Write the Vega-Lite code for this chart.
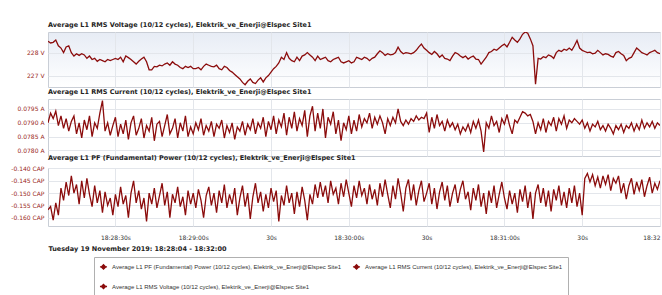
{
"$schema":"https://vega.github.io/schema/vega-lite/v6.json",
"padding":{"left":10,"top":21,"right":0,"bottom":0},
"background":"white",
"bounds":"flush",
"spacing":12,
"data":{"values":[
{"s":4,"v":228.5,"c":0.079,"p":-0.1568},{"s":5,"v":228.42,"c":0.07935,"p":-0.1555},{"s":6,"v":228.45,"c":0.07915,"p":-0.161},{"s":7,"v":228.55,"c":0.07942,"p":-0.154},{"s":8,"v":228.3,"c":0.0789,"p":-0.159},{"s":9,"v":228.2,"c":0.07925,"p":-0.148},{"s":10,"v":228.0,"c":0.0788,"p":-0.153},{"s":11,"v":228.25,"c":0.07915,"p":-0.1455},{"s":12,"v":228.3,"c":0.0787,"p":-0.151},{"s":13,"v":228.0,"c":0.07905,"p":-0.143},
{"s":14,"v":227.85,"c":0.07925,"p":-0.15},{"s":15,"v":227.95,"c":0.0786,"p":-0.1465},{"s":16,"v":227.88,"c":0.079,"p":-0.1545},{"s":17,"v":227.95,"c":0.07845,"p":-0.145},{"s":18,"v":227.9,"c":0.0791,"p":-0.152},{"s":19,"v":227.75,"c":0.07875,"p":-0.144},{"s":20,"v":227.85,"c":0.07925,"p":-0.1505},{"s":21,"v":227.7,"c":0.0785,"p":-0.1555},{"s":22,"v":227.75,"c":0.079,"p":-0.147},{"s":23,"v":227.62,"c":0.0788,"p":-0.154},
{"s":24,"v":227.7,"c":0.07935,"p":-0.149},{"s":25,"v":227.65,"c":0.0798,"p":-0.158},{"s":26,"v":227.6,"c":0.0787,"p":-0.1495},{"s":27,"v":227.7,"c":0.079,"p":-0.155},{"s":28,"v":227.65,"c":0.07855,"p":-0.152},{"s":29,"v":227.7,"c":0.0789,"p":-0.159},{"s":30,"v":227.75,"c":0.0792,"p":-0.1505},{"s":31,"v":227.7,"c":0.0785,"p":-0.1555},{"s":32,"v":227.8,"c":0.07895,"p":-0.1475},{"s":33,"v":227.6,"c":0.0786,"p":-0.1545},
{"s":34,"v":227.85,"c":0.0791,"p":-0.151},{"s":35,"v":227.78,"c":0.0784,"p":-0.16},{"s":36,"v":227.7,"c":0.079,"p":-0.15},{"s":37,"v":227.6,"c":0.07925,"p":-0.145},{"s":38,"v":227.5,"c":0.07855,"p":-0.154},{"s":39,"v":227.62,"c":0.0788,"p":-0.149},{"s":40,"v":227.72,"c":0.07915,"p":-0.1565},{"s":41,"v":227.8,"c":0.07845,"p":-0.152},{"s":42,"v":227.6,"c":0.0789,"p":-0.1615},{"s":43,"v":227.25,"c":0.0787,"p":-0.15},
{"s":44,"v":227.25,"c":0.0792,"p":-0.1545},{"s":45,"v":227.4,"c":0.07835,"p":-0.148},{"s":46,"v":227.38,"c":0.07895,"p":-0.156},{"s":47,"v":227.45,"c":0.07905,"p":-0.151},{"s":48,"v":227.42,"c":0.0785,"p":-0.146},{"s":49,"v":227.5,"c":0.0789,"p":-0.155},{"s":50,"v":227.55,"c":0.0793,"p":-0.1495},{"s":51,"v":227.45,"c":0.0786,"p":-0.16},{"s":52,"v":227.6,"c":0.0788,"p":-0.1505},{"s":53,"v":227.5,"c":0.07915,"p":-0.154},
{"s":54,"v":227.45,"c":0.07845,"p":-0.1475},{"s":55,"v":227.35,"c":0.079,"p":-0.1555},{"s":56,"v":227.3,"c":0.0787,"p":-0.1515},{"s":57,"v":227.4,"c":0.07925,"p":-0.159},{"s":58,"v":227.35,"c":0.0785,"p":-0.149},{"s":59,"v":227.4,"c":0.07885,"p":-0.1545},{"s":60,"v":227.3,"c":0.0786,"p":-0.15},{"s":61,"v":227.3,"c":0.079,"p":-0.156},{"s":62,"v":227.35,"c":0.07875,"p":-0.1485},{"s":63,"v":227.25,"c":0.07915,"p":-0.153},
{"s":64,"v":227.4,"c":0.07855,"p":-0.16},{"s":65,"v":227.5,"c":0.0789,"p":-0.151},{"s":66,"v":227.45,"c":0.0787,"p":-0.1475},{"s":67,"v":227.4,"c":0.07905,"p":-0.155},{"s":68,"v":227.38,"c":0.0785,"p":-0.15},{"s":69,"v":227.45,"c":0.07895,"p":-0.158},{"s":70,"v":227.3,"c":0.0788,"p":-0.149},{"s":71,"v":227.25,"c":0.0791,"p":-0.154},{"s":72,"v":227.4,"c":0.07845,"p":-0.1465},{"s":73,"v":227.35,"c":0.0789,"p":-0.156},
{"s":74,"v":227.22,"c":0.07865,"p":-0.1505},{"s":75,"v":227.15,"c":0.079,"p":-0.1545},{"s":76,"v":227.05,"c":0.0784,"p":-0.148},{"s":77,"v":226.95,"c":0.07885,"p":-0.159},{"s":78,"v":226.85,"c":0.0787,"p":-0.152},{"s":79,"v":226.7,"c":0.07905,"p":-0.147},{"s":80,"v":226.6,"c":0.07855,"p":-0.1555},{"s":81,"v":226.75,"c":0.07895,"p":-0.15},{"s":82,"v":226.85,"c":0.07875,"p":-0.1605},{"s":83,"v":226.7,"c":0.07915,"p":-0.1515},
{"s":84,"v":226.65,"c":0.0786,"p":-0.146},{"s":85,"v":226.8,"c":0.079,"p":-0.154},{"s":86,"v":226.9,"c":0.0788,"p":-0.1495},{"s":87,"v":226.72,"c":0.0792,"p":-0.1575},{"s":88,"v":226.9,"c":0.0785,"p":-0.1505},{"s":89,"v":227.0,"c":0.07905,"p":-0.156},{"s":90,"v":227.15,"c":0.07875,"p":-0.148},{"s":91,"v":227.3,"c":0.07925,"p":-0.1535},{"s":92,"v":227.4,"c":0.0786,"p":-0.149},{"s":93,"v":227.55,"c":0.0791,"p":-0.1615},
{"s":94,"v":227.8,"c":0.07885,"p":-0.151},{"s":95,"v":227.7,"c":0.07935,"p":-0.155},{"s":96,"v":228.0,"c":0.07855,"p":-0.147},{"s":97,"v":227.75,"c":0.0792,"p":-0.154},{"s":98,"v":227.65,"c":0.0788,"p":-0.15},{"s":99,"v":227.6,"c":0.0794,"p":-0.1585},{"s":100,"v":227.8,"c":0.0787,"p":-0.1495},{"s":101,"v":227.65,"c":0.07915,"p":-0.1555},{"s":102,"v":227.85,"c":0.0789,"p":-0.1475},{"s":103,"v":227.9,"c":0.07945,"p":-0.153},
{"s":104,"v":228.0,"c":0.0785,"p":-0.161},{"s":105,"v":227.9,"c":0.07925,"p":-0.1505},{"s":106,"v":227.8,"c":0.0796,"p":-0.1545},{"s":107,"v":227.65,"c":0.0787,"p":-0.1465},{"s":108,"v":227.85,"c":0.07935,"p":-0.152},{"s":109,"v":227.7,"c":0.0788,"p":-0.1455},{"s":110,"v":227.75,"c":0.0795,"p":-0.1515},{"s":111,"v":227.8,"c":0.07845,"p":-0.147},{"s":112,"v":227.65,"c":0.0792,"p":-0.154},{"s":113,"v":227.6,"c":0.07895,"p":-0.145},
{"s":114,"v":227.7,"c":0.0794,"p":-0.1505},{"s":115,"v":227.75,"c":0.0786,"p":-0.148},{"s":116,"v":227.8,"c":0.0791,"p":-0.1545},{"s":117,"v":227.6,"c":0.07835,"p":-0.146},{"s":118,"v":227.55,"c":0.079,"p":-0.1515},{"s":119,"v":227.6,"c":0.07875,"p":-0.1445},{"s":120,"v":227.65,"c":0.07925,"p":-0.15},{"s":121,"v":227.55,"c":0.0786,"p":-0.1555},{"s":122,"v":227.6,"c":0.0791,"p":-0.147},{"s":123,"v":227.8,"c":0.0787,"p":-0.152},
{"s":124,"v":227.75,"c":0.0793,"p":-0.145},{"s":125,"v":227.7,"c":0.07885,"p":-0.151},{"s":126,"v":227.8,"c":0.07915,"p":-0.148},{"s":127,"v":227.75,"c":0.079,"p":-0.1545},{"s":128,"v":227.65,"c":0.07935,"p":-0.1465},{"s":129,"v":227.75,"c":0.0788,"p":-0.1525},{"s":130,"v":227.8,"c":0.0792,"p":-0.1485},{"s":131,"v":227.95,"c":0.07895,"p":-0.155},{"s":132,"v":228.08,"c":0.07925,"p":-0.146},{"s":133,"v":228.0,"c":0.079,"p":-0.1515},
{"s":134,"v":227.88,"c":0.0786,"p":-0.1445},{"s":135,"v":227.95,"c":0.07915,"p":-0.1505},{"s":136,"v":227.9,"c":0.0789,"p":-0.156},{"s":137,"v":227.92,"c":0.0792,"p":-0.147},{"s":138,"v":228.0,"c":0.079,"p":-0.1525},{"s":139,"v":228.24,"c":0.0795,"p":-0.144},{"s":140,"v":228.05,"c":0.07905,"p":-0.15},{"s":141,"v":227.95,"c":0.0789,"p":-0.1575},{"s":142,"v":228.0,"c":0.0791,"p":-0.148},{"s":143,"v":227.98,"c":0.07895,"p":-0.1445},
{"s":144,"v":227.95,"c":0.07915,"p":-0.153},{"s":145,"v":228.0,"c":0.07905,"p":-0.1465},{"s":146,"v":228.1,"c":0.07925,"p":-0.155},{"s":147,"v":228.25,"c":0.0791,"p":-0.149},{"s":148,"v":228.37,"c":0.0792,"p":-0.145},{"s":149,"v":228.2,"c":0.07915,"p":-0.1535},{"s":150,"v":228.1,"c":0.07935,"p":-0.15},{"s":151,"v":228.0,"c":0.07865,"p":-0.146},{"s":152,"v":227.92,"c":0.0792,"p":-0.1545},{"s":153,"v":228.05,"c":0.0788,"p":-0.148},
{"s":154,"v":227.95,"c":0.0793,"p":-0.1565},{"s":155,"v":227.8,"c":0.0789,"p":-0.1495},{"s":156,"v":227.9,"c":0.07905,"p":-0.1455},{"s":157,"v":227.75,"c":0.0787,"p":-0.153},{"s":158,"v":227.72,"c":0.0791,"p":-0.147},{"s":159,"v":227.65,"c":0.07885,"p":-0.1555},{"s":160,"v":227.85,"c":0.079,"p":-0.15},{"s":161,"v":228.0,"c":0.07875,"p":-0.1465},{"s":162,"v":227.95,"c":0.07895,"p":-0.154},{"s":163,"v":227.85,"c":0.0786,"p":-0.1485},
{"s":164,"v":227.78,"c":0.07885,"p":-0.145},{"s":165,"v":227.85,"c":0.0787,"p":-0.1525},{"s":166,"v":227.72,"c":0.07895,"p":-0.1495},{"s":167,"v":227.8,"c":0.07865,"p":-0.157},{"s":168,"v":227.85,"c":0.07905,"p":-0.148},{"s":169,"v":227.72,"c":0.0788,"p":-0.153},{"s":170,"v":227.7,"c":0.0791,"p":-0.1465},{"s":171,"v":227.5,"c":0.0787,"p":-0.1555},{"s":172,"v":227.65,"c":0.07795,"p":-0.15},{"s":173,"v":227.8,"c":0.079,"p":-0.1585},
{"s":174,"v":228.0,"c":0.0788,"p":-0.149},{"s":175,"v":228.05,"c":0.07925,"p":-0.154},{"s":176,"v":228.15,"c":0.0789,"p":-0.147},{"s":177,"v":228.1,"c":0.07905,"p":-0.156},{"s":178,"v":228.2,"c":0.07865,"p":-0.1505},{"s":179,"v":228.3,"c":0.07915,"p":-0.1455},{"s":180,"v":228.37,"c":0.07895,"p":-0.152},{"s":181,"v":228.25,"c":0.0793,"p":-0.1565},{"s":182,"v":228.45,"c":0.0789,"p":-0.149},{"s":183,"v":228.67,"c":0.0786,"p":-0.1545},
{"s":184,"v":228.55,"c":0.0791,"p":-0.15},{"s":185,"v":228.45,"c":0.079,"p":-0.158},{"s":186,"v":228.6,"c":0.0792,"p":-0.1485},{"s":187,"v":228.8,"c":0.0794,"p":-0.1535},{"s":188,"v":228.9,"c":0.07935,"p":-0.147},{"s":189,"v":228.85,"c":0.07925,"p":-0.156},{"s":190,"v":228.6,"c":0.0793,"p":-0.1495},{"s":191,"v":228.3,"c":0.07905,"p":-0.1605},{"s":192,"v":226.62,"c":0.0786,"p":-0.15},{"s":193,"v":227.75,"c":0.079,"p":-0.1465},
{"s":194,"v":227.72,"c":0.07875,"p":-0.154},{"s":195,"v":227.82,"c":0.07915,"p":-0.148},{"s":196,"v":227.78,"c":0.07865,"p":-0.1555},{"s":197,"v":227.9,"c":0.07905,"p":-0.149},{"s":198,"v":227.85,"c":0.0789,"p":-0.1575},{"s":199,"v":227.75,"c":0.0792,"p":-0.1485},{"s":200,"v":228.0,"c":0.0787,"p":-0.153},{"s":201,"v":228.1,"c":0.07915,"p":-0.147},{"s":202,"v":228.05,"c":0.07895,"p":-0.155},{"s":203,"v":228.15,"c":0.07925,"p":-0.1495},
{"s":204,"v":228.1,"c":0.0788,"p":-0.156},{"s":205,"v":228.2,"c":0.0791,"p":-0.148},{"s":206,"v":228.1,"c":0.079,"p":-0.154},{"s":207,"v":228.3,"c":0.07915,"p":-0.147},{"s":208,"v":228.53,"c":0.07905,"p":-0.1555},{"s":209,"v":228.2,"c":0.07895,"p":-0.15},{"s":210,"v":228.1,"c":0.0791,"p":-0.159},{"s":211,"v":228.05,"c":0.0788,"p":-0.144},{"s":212,"v":228.0,"c":0.079,"p":-0.142},{"s":213,"v":228.02,"c":0.0787,"p":-0.1455},
{"s":214,"v":227.95,"c":0.07895,"p":-0.1425},{"s":215,"v":227.98,"c":0.07885,"p":-0.147},{"s":216,"v":228.1,"c":0.07905,"p":-0.1435},{"s":217,"v":228.0,"c":0.07875,"p":-0.148},{"s":218,"v":227.9,"c":0.0789,"p":-0.143},{"s":219,"v":227.95,"c":0.0787,"p":-0.1465},{"s":220,"v":227.92,"c":0.07895,"p":-0.1425},{"s":221,"v":227.85,"c":0.0788,"p":-0.149},{"s":222,"v":227.8,"c":0.0786,"p":-0.144},{"s":223,"v":228.0,"c":0.0789,"p":-0.146},
{"s":224,"v":228.05,"c":0.07875,"p":-0.143},{"s":225,"v":227.95,"c":0.07895,"p":-0.15},{"s":226,"v":227.88,"c":0.07865,"p":-0.146},{"s":227,"v":227.65,"c":0.0789,"p":-0.1525},{"s":228,"v":227.75,"c":0.0788,"p":-0.147},{"s":229,"v":227.8,"c":0.079,"p":-0.144},{"s":230,"v":228.0,"c":0.0787,"p":-0.1505},{"s":231,"v":228.2,"c":0.07895,"p":-0.1455},{"s":232,"v":228.1,"c":0.07875,"p":-0.149},{"s":233,"v":228.0,"c":0.0791,"p":-0.1445},
{"s":234,"v":227.95,"c":0.0788,"p":-0.1515},{"s":235,"v":227.9,"c":0.079,"p":-0.147},{"s":236,"v":228.0,"c":0.07885,"p":-0.1435},{"s":237,"v":228.05,"c":0.07905,"p":-0.15},{"s":238,"v":228.1,"c":0.0788,"p":-0.146},{"s":239,"v":228.0,"c":0.079,"p":-0.1485},{"s":240,"v":227.95,"c":0.0789,"p":-0.145}
]},
"vconcat":[
{"width":612,"height":55,
 "title":"Average L1 RMS Voltage (10/12 cycles), Elektrik_ve_Enerji@Elspec Site1",
 "view":{"fill":{"gradient":"linear","x1":0,"y1":0,"x2":0,"y2":1,"stops":[{"offset":0,"color":"#e7ecf5"},{"offset":1,"color":"#ffffff"}]}},
 "mark":{"type":"line","clip":true},
 "encoding":{
  "x":{"field":"s","type":"quantitative","scale":{"domain":[4,240],"nice":false,"zero":false},"axis":{"values":[30,60,90,120,150,180,210,240],"labels":false,"title":null}},
  "y":{"field":"v","type":"quantitative","scale":{"domain":[226.5,228.9],"nice":false,"zero":false},"axis":{"values":[227,228],"labelExpr":"datum.value + ' V'","title":null}},
  "color":{"datum":"Average L1 RMS Voltage (10/12 cycles), Elektrik_ve_Enerji@Elspec Site1","type":"nominal",
   "scale":{"domain":["Average L1 PF (Fundamental) Power (10/12 cycles), Elektrik_ve_Enerji@Elspec Site1","Average L1 RMS Current (10/12 cycles), Elektrik_ve_Enerji@Elspec Site1","Average L1 RMS Voltage (10/12 cycles), Elektrik_ve_Enerji@Elspec Site1"],"range":["#8b0c0c","#8b0c0c","#8b0c0c"]},
   "legend":{"orient":"none","legendX":46,"legendY":225,"columns":2,"title":null,"direction":"horizontal","strokeColor":"#b0b0b0","padding":5,"labelFont":"Liberation Sans","labelFontSize":6,"labelColor":"#333","labelLimit":400,"rowPadding":9,"columnPadding":8,"symbolType":"M-1,0L1,0M0,-0.6L0.6,0L0,0.6L-0.6,0Z","symbolSize":50,"symbolStrokeWidth":1.5,"symbolFillColor":"#8b0c0c"}}
 }},
{"width":612,"height":57,
 "title":"Average L1 RMS Current (10/12 cycles), Elektrik_ve_Enerji@Elspec Site1",
 "mark":{"type":"line","clip":true},
 "encoding":{
  "x":{"field":"s","type":"quantitative","scale":{"domain":[4,240],"nice":false,"zero":false},"axis":{"values":[30,60,90,120,150,180,210,240],"labels":false,"title":null}},
  "y":{"field":"c","type":"quantitative","scale":{"domain":[0.0778,0.07986],"nice":false,"zero":false},"axis":{"values":[0.078,0.0785,0.079,0.0795],"format":".4f","labelExpr":"datum.label + ' A'","title":null}},
  "color":{"datum":"Average L1 RMS Current (10/12 cycles), Elektrik_ve_Enerji@Elspec Site1","type":"nominal"}
 }},
{"width":612,"height":58,
 "title":"Average L1 PF (Fundamental) Power (10/12 cycles), Elektrik_ve_Enerji@Elspec Site1",
 "mark":{"type":"line","clip":true},
 "encoding":{
  "x":{"field":"s","type":"quantitative","scale":{"domain":[4,240],"nice":false,"zero":false},"axis":{"values":[30,60,90,120,150,180,210,240],"labelExpr":"datum.value == 30 ? '18:28:30s' : datum.value == 240 ? '18:32' : datum.value % 60 == 0 ? '18:' + (28 + datum.value / 60) + ':00s' : '30s'","labelAlign":{"condition":{"test":"datum.value == 240","value":"right"},"value":"center"},"labelColor":"#333","labelPadding":8,"title":"Tuesday 19 November 2019: 18:28:04 - 18:32:00","titleAnchor":"start","titleAlign":"left","titleFontWeight":"bold","titleFontSize":6.5,"titleColor":"#222","titlePadding":5}},
  "y":{"field":"p","type":"quantitative","scale":{"domain":[-0.1634,-0.1398],"nice":false,"zero":false},"axis":{"values":[-0.16,-0.155,-0.15,-0.145,-0.14],"format":".3f","labelExpr":"replace(datum.label, '\u2212', '-') + ' CAP'","title":null}},
  "color":{"datum":"Average L1 PF (Fundamental) Power (10/12 cycles), Elektrik_ve_Enerji@Elspec Site1","type":"nominal"}
 }}
],
"config":{
 "view":{"stroke":"#c9ced6","strokeWidth":1},
 "axis":{"gridColor":"#e3e6eb","gridWidth":1,"domain":false,"ticks":false,"labelFont":"DejaVu Sans","labelFontSize":6,"labelColor":"#9a2a24","labelPadding":4,"titleFont":"DejaVu Sans"},
 "title":{"anchor":"start","frame":"group","font":"DejaVu Sans","fontSize":6.5,"fontWeight":"bold","color":"#222","offset":4},
 "line":{"strokeWidth":1.3}
}
}
